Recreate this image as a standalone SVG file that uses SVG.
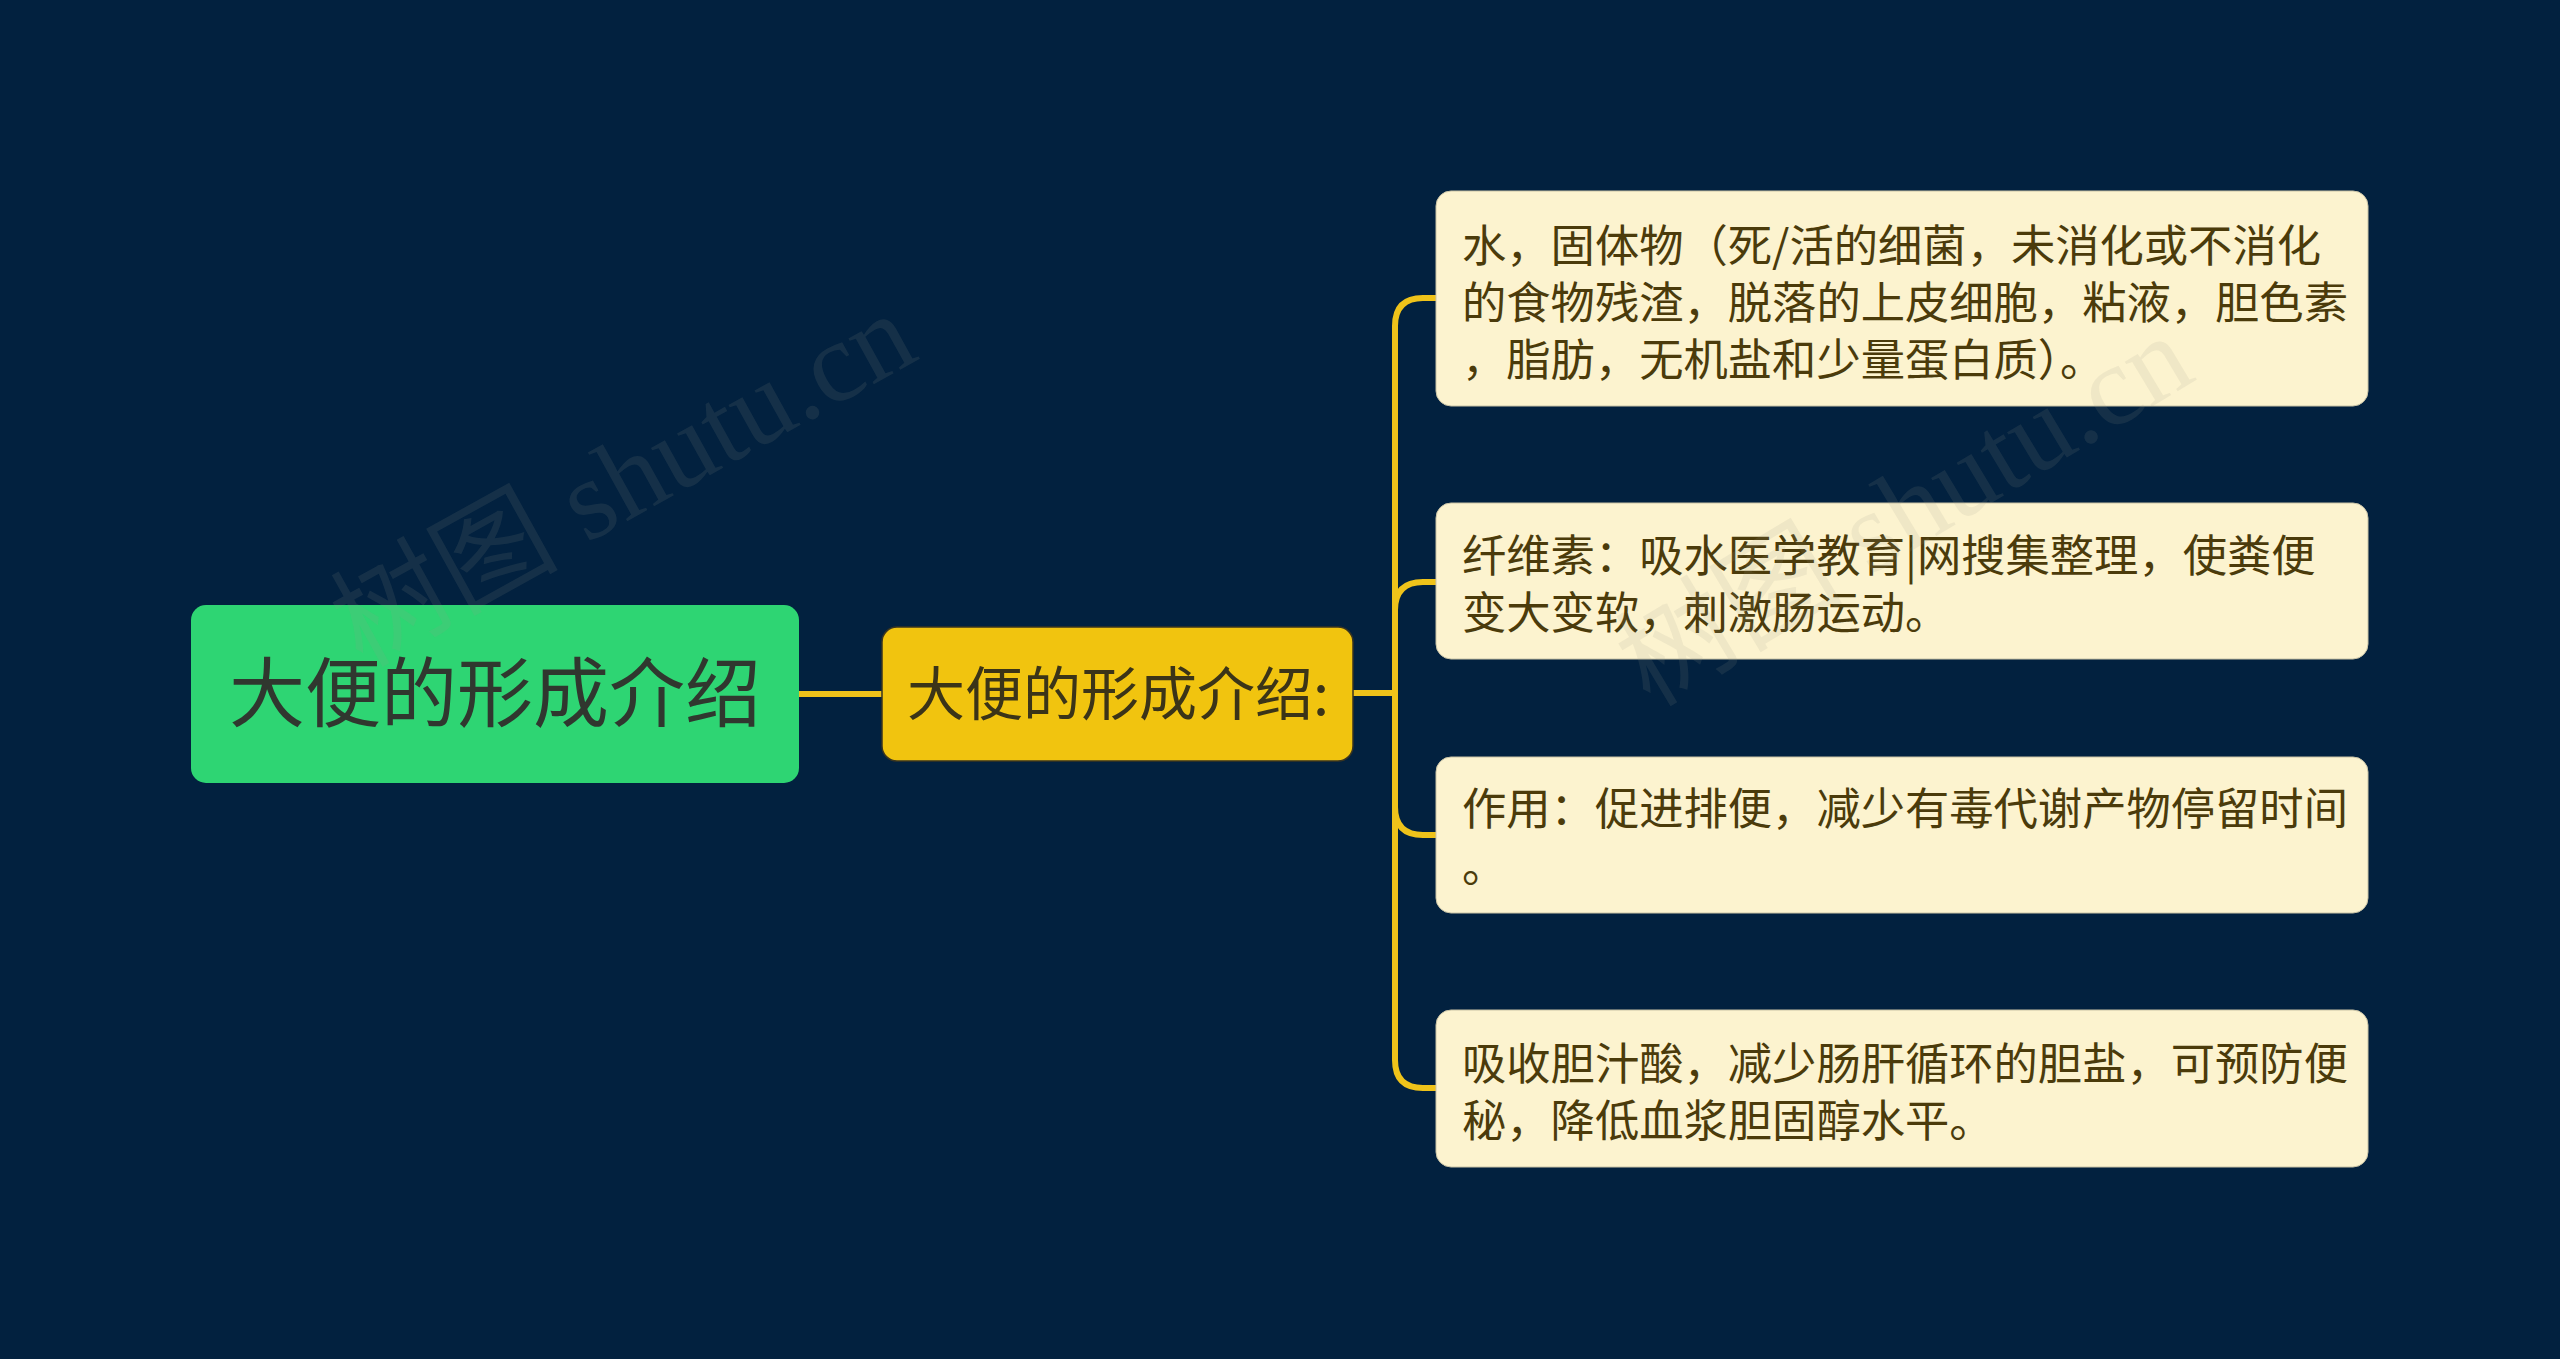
<svg xmlns="http://www.w3.org/2000/svg" width="2560" height="1359" viewBox="0 0 2560 1359">
<style>
.bg{fill:#02213f}
.conn{fill:none;stroke:#efc31a;stroke-width:6;stroke-linecap:round;stroke-linejoin:round}
.root rect{fill:#2ed573}
.root text{fill:#30372f;font-size:76px}
.mid rect{fill:#f1c40f;stroke:#3a3520;stroke-width:1.5}
.mid text{fill:#3b3418;font-size:58px}
.leaf rect{fill:#fcf3cf;stroke:#c9c3a6;stroke-width:1}
.leaf text{fill:#4b3b0b;font-size:44.3px}
text{font-family:"Noto Sans CJK SC","Noto Sans",sans-serif}
.wm{font-family:"Liberation Serif","Noto Sans CJK SC",serif;font-size:114px;fill:#9a9a8a;fill-opacity:0.13}
</style>
<rect class="bg" x="0" y="0" width="2560" height="1359"/>
<g id="connectors">
<path class="conn" d="M799 694 L882 694"/>
<path class="conn" d="M1353 693 L1395 693"/>
<path class="conn" d="M1395 693 L1395 326 Q1395 298 1423 298 L1436 298"/>
<path class="conn" d="M1395 693 L1395 610 Q1395 582 1423 582 L1436 582"/>
<path class="conn" d="M1395 693 L1395 807 Q1395 835 1423 835 L1436 835"/>
<path class="conn" d="M1395 693 L1395 1060 Q1395 1088 1423 1088 L1436 1088"/>
</g>
<g id="root" class="root">
<rect x="191" y="605" width="608" height="178" rx="15" ry="15"/>
<text x="495" y="721" text-anchor="middle">大便的形成介绍</text>
</g>
<g id="mid" class="mid">
<rect x="882" y="627" width="471" height="134" rx="15" ry="15"/>
<text x="1118" y="715" text-anchor="middle">大便的形成介绍:</text>
</g>
<g id="leaf1" class="leaf">
<rect x="1436" y="191" width="932" height="215" rx="15" ry="15"/>
<text x="1462" y="262">水，固体物（死/活的细菌，未消化或不消化</text>
<text x="1462" y="319">的食物残渣，脱落的上皮细胞，粘液，胆色素</text>
<text x="1462" y="376">，脂肪，无机盐和少量蛋白质）。</text>
</g>
<g id="leaf2" class="leaf">
<rect x="1436" y="503" width="932" height="156" rx="15" ry="15"/>
<text x="1462" y="572">纤维素：吸水医学教育|网搜集整理，使粪便</text>
<text x="1462" y="629">变大变软，刺激肠运动。</text>
</g>
<g id="leaf3" class="leaf">
<rect x="1436" y="757" width="932" height="156" rx="15" ry="15"/>
<text x="1462" y="825">作用：促进排便，减少有毒代谢产物停留时间</text>
<text x="1462" y="882">。</text>
</g>
<g id="leaf4" class="leaf">
<rect x="1436" y="1010" width="932" height="157" rx="15" ry="15"/>
<text x="1462" y="1080">吸收胆汁酸，减少肠肝循环的胆盐，可预防便</text>
<text x="1462" y="1137">秘，降低血浆胆固醇水平。</text>
</g>
<g id="watermarks">
<text class="wm" transform="translate(362 668) rotate(-29)">树图 shutu.cn</text>
<text class="wm" transform="translate(1650 708) rotate(-31)">树图 shutu.cn</text>
</g>
</svg>
